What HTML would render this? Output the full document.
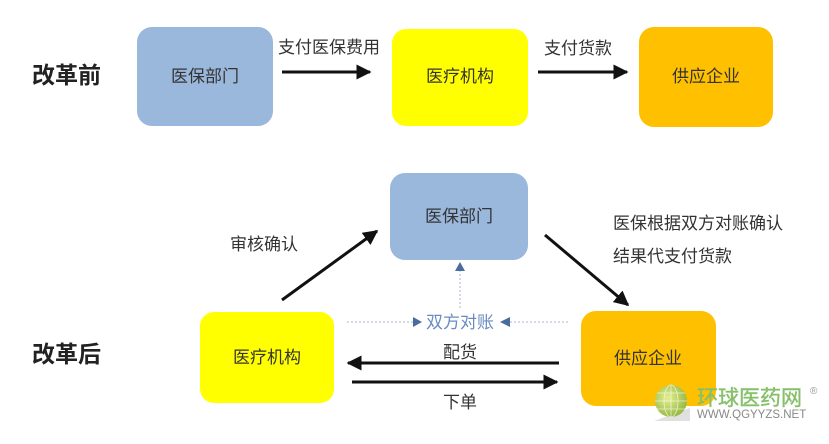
<!DOCTYPE html>
<html><head><meta charset="utf-8"><style>
html,body{margin:0;padding:0;background:#fff;}
body{width:829px;height:439px;overflow:hidden;}
svg text{font-family:"Liberation Sans","Noto Sans CJK SC",sans-serif;}
</style></head><body>
<svg width="829" height="439" viewBox="0 0 829 439" xmlns="http://www.w3.org/2000/svg">
<defs>
<marker id="ah" viewBox="0 0 10 10" refX="9" refY="5" markerWidth="5" markerHeight="5" orient="auto" markerUnits="strokeWidth">
<path d="M0,0 L10,5 L0,10 z" fill="#111"/></marker>
<radialGradient id="gl" cx="0.4" cy="0.4" r="0.7"><stop offset="0" stop-color="#e6ee90"/><stop offset="1" stop-color="#8cb33a"/></radialGradient>
</defs>
<rect width="829" height="439" fill="#fff"/>

<!-- Labels left -->
<text x="32" y="83" font-size="23" font-weight="bold" fill="#222">改革前</text>
<text x="32" y="362" font-size="23" font-weight="bold" fill="#222">改革后</text>

<!-- Top row -->
<rect x="137" y="27" width="136" height="99" rx="15" fill="#9ab7dc"/>
<text x="205" y="82" font-size="17" fill="#333" text-anchor="middle">医保部门</text>
<rect x="392" y="29" width="136" height="97" rx="14" fill="#ffff00"/>
<text x="460" y="82" font-size="17" fill="#333" text-anchor="middle">医疗机构</text>
<rect x="639" y="27" width="134" height="100" rx="15" fill="#ffc000"/>
<text x="706" y="82" font-size="17" fill="#333" text-anchor="middle">供应企业</text>

<line x1="282" y1="72" x2="370" y2="72" stroke="#111" stroke-width="3" marker-end="url(#ah)"/>
<text x="329" y="53" font-size="17" fill="#333" text-anchor="middle">支付医保费用</text>
<line x1="538" y1="72" x2="627" y2="72" stroke="#111" stroke-width="3" marker-end="url(#ah)"/>
<text x="578" y="54" font-size="17" fill="#333" text-anchor="middle">支付货款</text>

<!-- Bottom -->
<rect x="390" y="173" width="138" height="87" rx="15" fill="#9ab7dc"/>
<text x="459" y="222" font-size="17" fill="#333" text-anchor="middle">医保部门</text>
<rect x="200" y="312" width="134" height="91" rx="14" fill="#ffff00"/>
<text x="267" y="363" font-size="17" fill="#333" text-anchor="middle">医疗机构</text>
<rect x="581" y="311" width="135" height="95" rx="15" fill="#ffc000"/>
<text x="648" y="364" font-size="17" fill="#333" text-anchor="middle">供应企业</text>

<text x="230" y="250" font-size="17" fill="#333">审核确认</text>
<line x1="282" y1="300" x2="377" y2="231" stroke="#111" stroke-width="3" marker-end="url(#ah)"/>

<line x1="545" y1="235" x2="628" y2="305" stroke="#111" stroke-width="3" marker-end="url(#ah)"/>
<text x="613" y="229" font-size="17" fill="#333">医保根据双方对账确认</text>
<text x="613" y="262" font-size="17" fill="#333">结果代支付货款</text>

<!-- dotted -->
<line x1="460" y1="308" x2="460" y2="270" stroke="#b9c5d6" stroke-width="1.2" stroke-dasharray="2,2"/>
<path d="M455,271 L460,262 L465,271 z" fill="#4a6c9c"/>
<line x1="347" y1="322" x2="413" y2="322" stroke="#b9c5d6" stroke-width="1.2" stroke-dasharray="2,2"/>
<path d="M413,317 L422,322 L413,327 z" fill="#4a6c9c"/>
<text x="460" y="328" font-size="17" fill="#6a8cc0" text-anchor="middle">双方对账</text>
<path d="M510,317 L500,322 L510,327 z" fill="#4a6c9c"/>
<line x1="510" y1="322" x2="570" y2="322" stroke="#b9c5d6" stroke-width="1.2" stroke-dasharray="2,2"/>

<line x1="559" y1="363" x2="348" y2="363" stroke="#111" stroke-width="3" marker-end="url(#ah)"/>
<text x="460" y="358" font-size="17" fill="#333" text-anchor="middle">配货</text>
<line x1="352" y1="382" x2="557" y2="382" stroke="#111" stroke-width="3" marker-end="url(#ah)"/>
<text x="460" y="408" font-size="17" fill="#333" text-anchor="middle">下单</text>

<!-- watermark -->
<path d="M654,421 L690,408 L690,421 z" fill="#d8d8d8" opacity="0.8"/>
<circle cx="671" cy="401" r="16" fill="url(#gl)"/>
<g stroke="#fff" stroke-width="0.8" fill="none" opacity="0.7">
<ellipse cx="671" cy="401" rx="7" ry="16"/>
<line x1="655" y1="401" x2="687" y2="401"/>
<line x1="657" y1="393" x2="685" y2="393"/>
<line x1="657" y1="409" x2="685" y2="409"/>
<line x1="671" y1="385" x2="671" y2="417"/>
</g>
<text x="697" y="405" font-size="21" fill="#86c06a" stroke="#86c06a" stroke-width="0.4">环球医药网</text>
<text x="810" y="394" font-size="10" fill="#999">®</text>
<text x="697" y="418" font-size="11.5" fill="#888">WWW.QGYYZS.NET</text>
</svg>
</body></html>
